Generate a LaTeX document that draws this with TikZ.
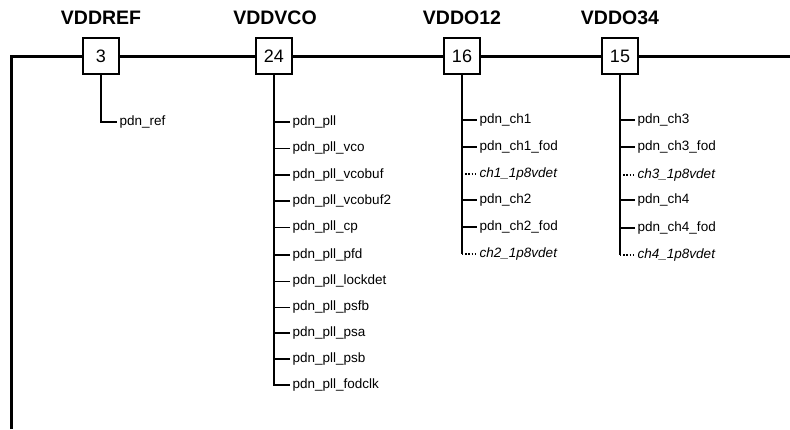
\documentclass[tikz,border=0pt]{standalone}
\usepackage{fontspec}
\setmainfont{Liberation Sans}
\usetikzlibrary{positioning}

\begin{document}
\begin{tikzpicture}[
  x=1pt, y=-1pt,
  supply/.style={draw=black, line width=1.2pt, fill=white, minimum width=36pt,
                 minimum height=36pt, inner sep=0pt, font=\fontsize{18}{20}\selectfont},
  railname/.style={font=\fontsize{19.5}{22}\selectfont\bfseries},
  bus/.style={line width=3pt},
  trunk/.style={line width=1.8pt},
  tick/.style={line width=1.6pt},
  dtick/.style={line width=1.3pt, dash pattern=on 1.4pt off 1.8pt},
  pdn/.style={anchor=west, inner sep=2.5pt, font=\fontsize{13.5}{15}\selectfont},
  det/.style={pdn, font=\fontsize{13.5}{15}\selectfont\itshape}
]
\useasboundingbox (0,0) rectangle (790,429);

% supply rails
\node[supply] (ref) at (101,56) {3};
\node[supply] (vco) at (274,56) {24};
\node[supply] (o12) at (462,56) {16};
\node[supply] (o34) at (620,56) {15};

\node[railname] (refname) at (101,18) {VDDREF};
\node[railname] (vconame) at (275,18) {VDDVCO};
\node[railname] (o12name) at (462,18) {VDDO12};
\node[railname] (o34name) at (620,18) {VDDO34};

\coordinate (bottom) at (11,429);
\coordinate (corner) at (11,56);
\coordinate (east)   at (790,56);

\draw[bus, line join=miter] (bottom) -- (corner) -- (ref);
\draw[bus] (ref) -- (vco);
\draw[bus] (vco) -- (o12);
\draw[bus] (o12) -- (o34);
\draw[bus] (o34) -- (east);

% VDDREF
\node[pdn] (pref) at (117,122) {pdn\_ref};
\draw[trunk] (ref.south) |- (pref.west);

% VDDVCO
\node[pdn] (pll)      at (290,122) {pdn\_pll};
\node[pdn] (pllvco)   at (290,148.5) {pdn\_pll\_vco};
\node[pdn] (vcobuf)   at (290,175) {pdn\_pll\_vcobuf};
\node[pdn] (vcobuf2)  at (290,201) {pdn\_pll\_vcobuf2};
\node[pdn] (pllcp)    at (290,227.5) {pdn\_pll\_cp};
\node[pdn] (pllpfd)   at (290,255) {pdn\_pll\_pfd};
\node[pdn] (lockdet)  at (290,281.5) {pdn\_pll\_lockdet};
\node[pdn] (psfb)     at (290,307.5) {pdn\_pll\_psfb};
\node[pdn] (psa)      at (290,333) {pdn\_pll\_psa};
\node[pdn] (psb)      at (290,359) {pdn\_pll\_psb};
\node[pdn] (fodclk)   at (290,385) {pdn\_pll\_fodclk};

\draw[trunk] (vco.south) |- (fodclk.west);
\draw[tick] (vco.south |- pll.west) -- (pll.west);
\draw[tick] (vco.south |- pllvco.west) -- (pllvco.west);
\draw[tick] (vco.south |- vcobuf.west) -- (vcobuf.west);
\draw[tick] (vco.south |- vcobuf2.west) -- (vcobuf2.west);
\draw[tick] (vco.south |- pllcp.west) -- (pllcp.west);
\draw[tick] (vco.south |- pllpfd.west) -- (pllpfd.west);
\draw[tick] (vco.south |- lockdet.west) -- (lockdet.west);
\draw[tick] (vco.south |- psfb.west) -- (psfb.west);
\draw[tick] (vco.south |- psa.west) -- (psa.west);
\draw[tick] (vco.south |- psb.west) -- (psb.west);

% VDDO12
\node[pdn] (ch1)    at (477,120) {pdn\_ch1};
\node[pdn] (ch1fod) at (477,147) {pdn\_ch1\_fod};
\node[det] (ch1det) at (477,174) {ch1\_1p8vdet};
\node[pdn] (ch2)    at (477,200) {pdn\_ch2};
\node[pdn] (ch2fod) at (477,227) {pdn\_ch2\_fod};
\node[det] (ch2det) at (477,254) {ch2\_1p8vdet};

\draw[trunk] (o12.south) -- (o12.south |- ch2det.west);
\draw[tick]  (o12.south |- ch1.west) -- (ch1.west);
\draw[tick]  (o12.south |- ch1fod.west) -- (ch1fod.west);
\draw[dtick] (o12.south |- ch1det.west) -- (ch1det.west);
\draw[tick]  (o12.south |- ch2.west) -- (ch2.west);
\draw[tick]  (o12.south |- ch2fod.west) -- (ch2fod.west);
\draw[dtick] (o12.south |- ch2det.west) -- (ch2det.west);

% VDDO34
\node[pdn] (ch3)    at (635,120) {pdn\_ch3};
\node[pdn] (ch3fod) at (635,147) {pdn\_ch3\_fod};
\node[det] (ch3det) at (635,175) {ch3\_1p8vdet};
\node[pdn] (ch4)    at (635,200) {pdn\_ch4};
\node[pdn] (ch4fod) at (635,228) {pdn\_ch4\_fod};
\node[det] (ch4det) at (635,255) {ch4\_1p8vdet};

\draw[trunk] (o34.south) -- (o34.south |- ch4det.west);
\draw[tick]  (o34.south |- ch3.west) -- (ch3.west);
\draw[tick]  (o34.south |- ch3fod.west) -- (ch3fod.west);
\draw[dtick] (o34.south |- ch3det.west) -- (ch3det.west);
\draw[tick]  (o34.south |- ch4.west) -- (ch4.west);
\draw[tick]  (o34.south |- ch4fod.west) -- (ch4fod.west);
\draw[dtick] (o34.south |- ch4det.west) -- (ch4det.west);
\end{tikzpicture}
\end{document}
